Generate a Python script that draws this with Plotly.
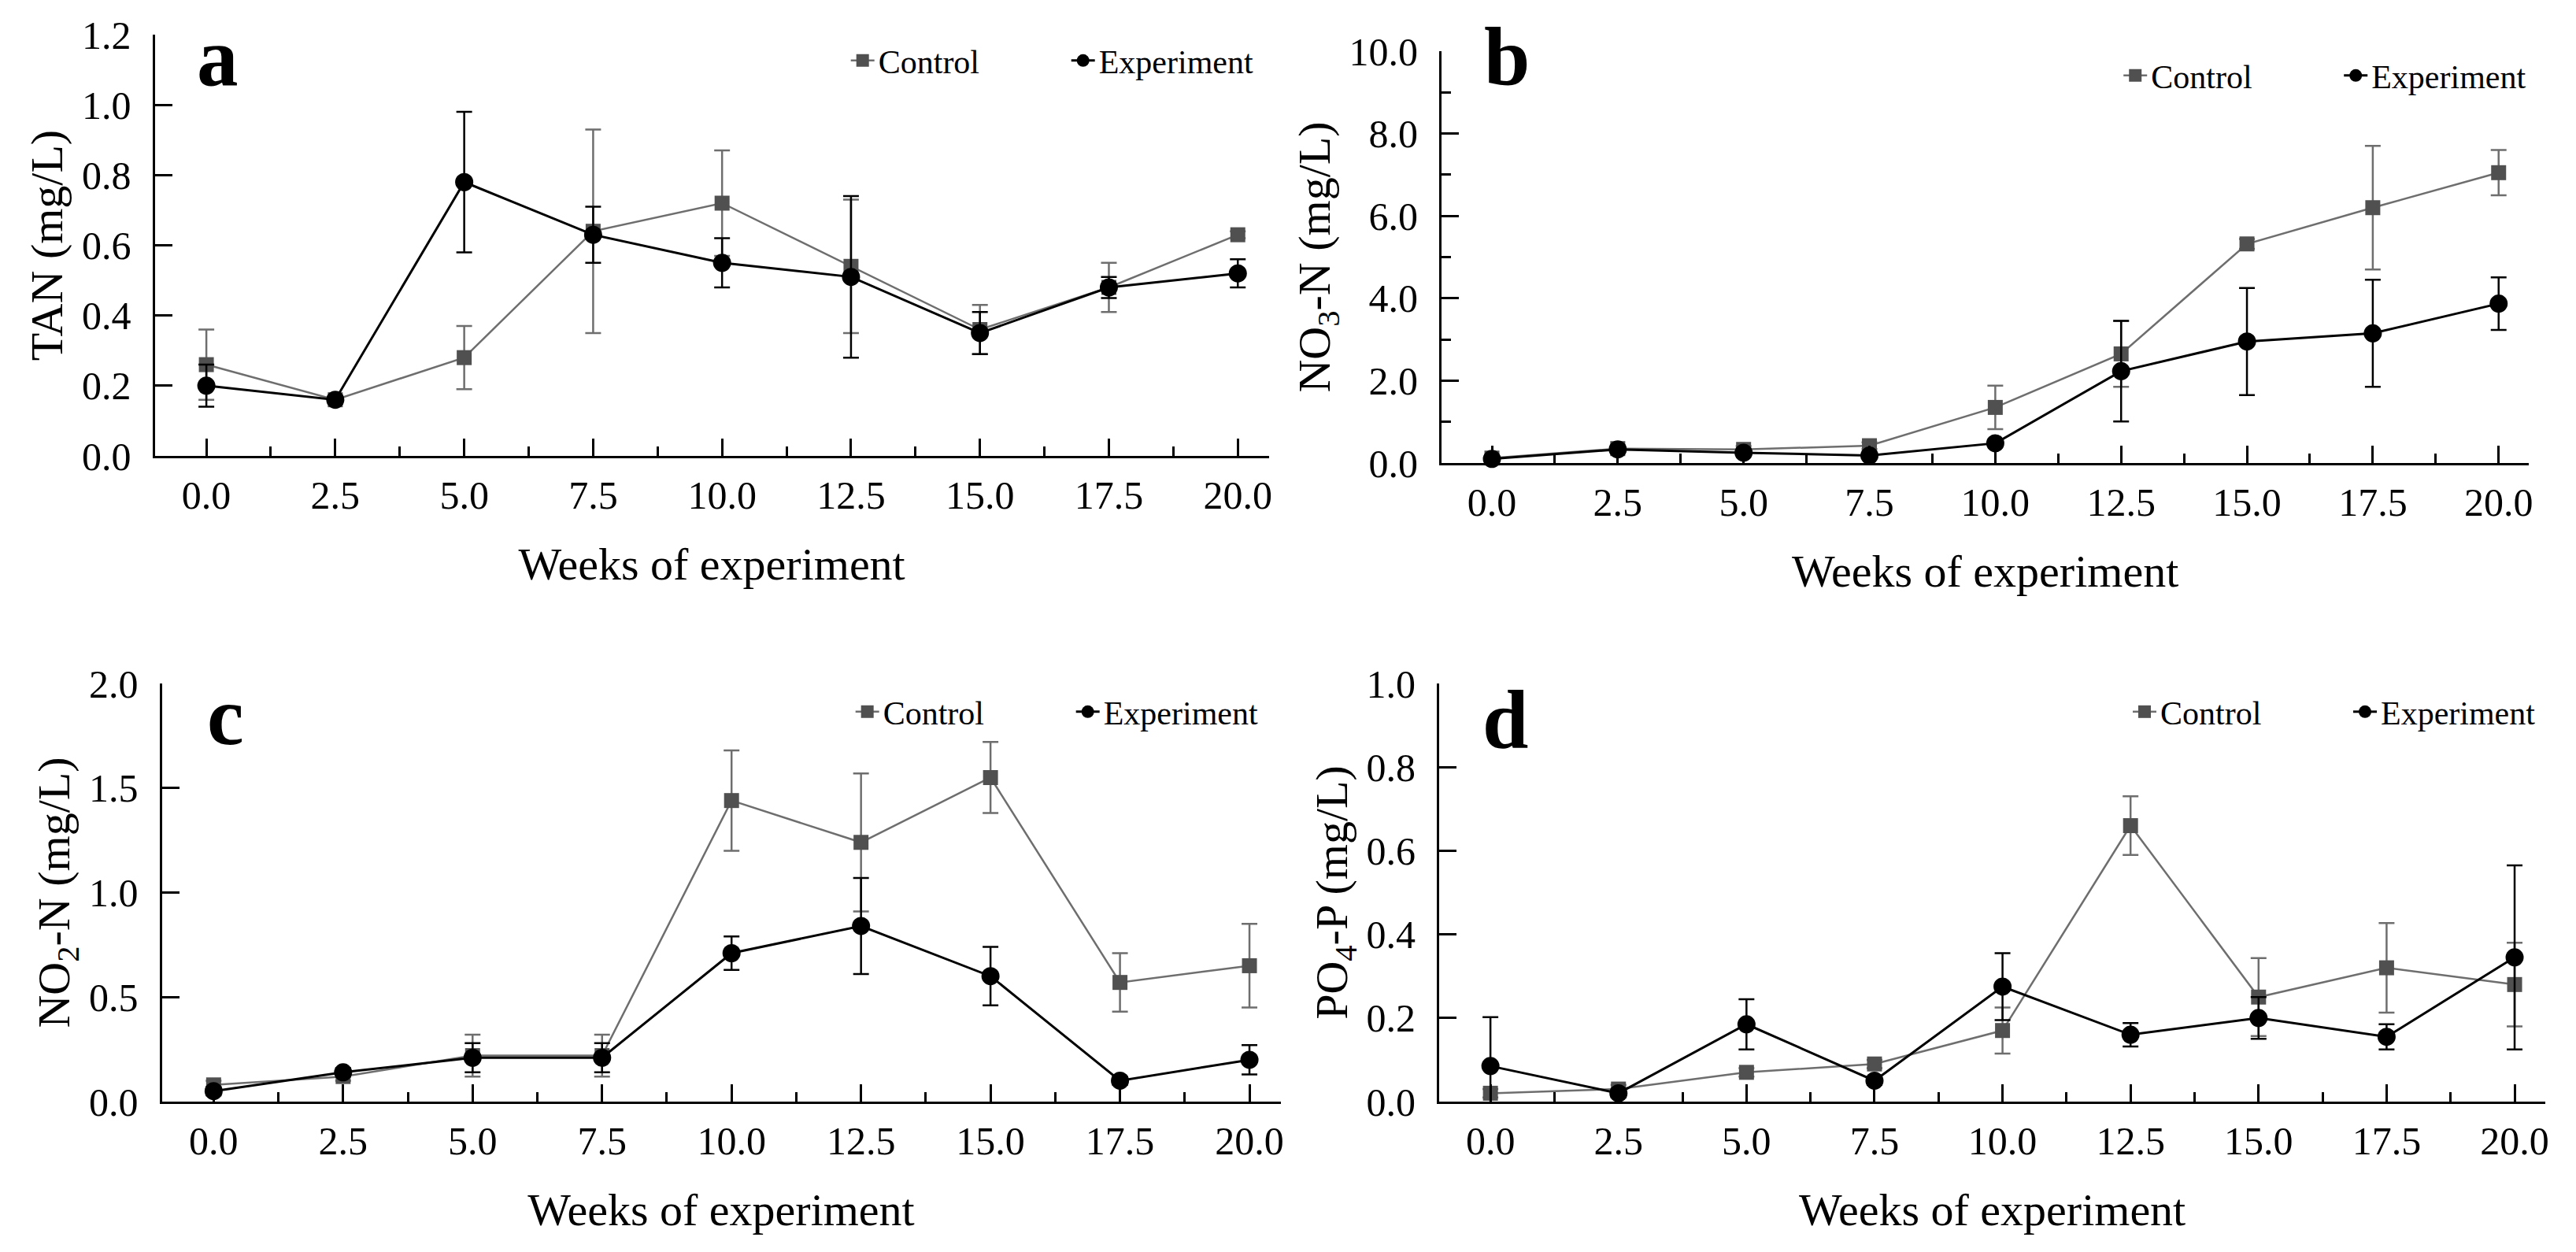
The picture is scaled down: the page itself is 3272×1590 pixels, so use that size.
import plotly.graph_objects as go

# weeks of sampling (shared by all four panels)
weeks = [0.0, 2.5, 5.0, 7.5, 10.0, 12.5, 15.0, 17.5, 20.0]

# a: TAN (mg/L)
tan_ctl = [0.26, 0.16, 0.28, 0.64, 0.72, 0.54, 0.36, 0.48, 0.63]
tan_ctl_err = [0.10, 0.01, 0.09, 0.29, 0.15, 0.19, 0.07, 0.07, 0.01]
tan_exp = [0.20, 0.16, 0.78, 0.63, 0.55, 0.51, 0.35, 0.48, 0.52]
tan_exp_err = [0.06, 0.01, 0.20, 0.08, 0.07, 0.23, 0.06, 0.03, 0.04]

# b: NO3-N (mg/L)
no3_ctl = [0.12, 0.35, 0.33, 0.42, 1.35, 2.65, 5.32, 6.20, 7.05]
no3_ctl_err = [0.05, 0.05, 0.08, 0.08, 0.53, 0.80, 0.12, 1.50, 0.55]
no3_exp = [0.10, 0.33, 0.25, 0.18, 0.48, 2.23, 2.95, 3.15, 3.87]
no3_exp_err = [0.05, 0.05, 0.05, 0.05, 0.08, 1.22, 1.30, 1.30, 0.64]

# c: NO2-N (mg/L)
no2_ctl = [0.08, 0.12, 0.22, 0.22, 1.44, 1.24, 1.55, 0.57, 0.65]
no2_ctl_err = [0.02, 0.02, 0.10, 0.10, 0.24, 0.33, 0.17, 0.14, 0.20]
no2_exp = [0.05, 0.14, 0.21, 0.21, 0.71, 0.84, 0.60, 0.10, 0.20]
no2_exp_err = [0.02, 0.02, 0.07, 0.07, 0.08, 0.23, 0.14, 0.02, 0.07]

# d: PO4-P (mg/L)
po4_ctl = [0.02, 0.03, 0.07, 0.09, 0.17, 0.66, 0.25, 0.32, 0.28]
po4_ctl_err = [0.01, 0.01, 0.01, 0.01, 0.055, 0.07, 0.093, 0.107, 0.10]
po4_exp = [0.085, 0.02, 0.185, 0.05, 0.275, 0.16, 0.20, 0.155, 0.345]
po4_exp_err = [0.117, 0.01, 0.06, 0.01, 0.08, 0.028, 0.05, 0.03, 0.22]

panels = [
    ("a", tan_ctl, tan_ctl_err, tan_exp, tan_exp_err, "TAN (mg/L)", 1.2, 0.2, None),
    ("b", no3_ctl, no3_ctl_err, no3_exp, no3_exp_err, "NO<sub>3</sub>-N (mg/L)", 10.0, 2.0, 1.0),
    ("c", no2_ctl, no2_ctl_err, no2_exp, no2_exp_err, "NO<sub>2</sub>-N (mg/L)", 2.0, 0.5, None),
    ("d", po4_ctl, po4_ctl_err, po4_exp, po4_exp_err, "PO<sub>4</sub>-P (mg/L)", 1.0, 0.2, None),
]

# the page body has an 8px margin, so the figure is a bit smaller and shifted
OFF = 8
W, H = 3272 - 2 * OFF, 1590 - 2 * OFF
# plot boxes in screen pixels: left, right, top, bottom
boxes = [(197, 1615, 44, 579), (1835, 3219, 65, 588),
         (206, 1630, 868, 1399), (1832, 3240, 868, 1399)]
legend_pos = [(1078, 77), (2698, 96), (1084, 904), (2710, 904)]
letter_pos = [(277, 133), (1918, 133), (287, 970), (1916, 975)]


def px(x):
    return (x - OFF) / W


def py(y):
    return 1 - (y - OFF) / H


FONT = "Liberation Serif"
CTL_LINE = "#6e6e6e"
CTL_MARK = "#505050"

fig = go.Figure()
layout = dict(template="none", width=W, height=H, margin=dict(l=0, r=0, t=0, b=0),
              paper_bgcolor="white", plot_bgcolor="white",
              font=dict(family=FONT, size=50, color="black"),
              annotations=[])

for i, (tag, ctl, ctl_err, exp, exp_err, ytitle, ymax, ydt, yminor) in enumerate(panels):
    n = "" if i == 0 else str(i + 1)
    leg = "legend" + n
    l, r, t, b = boxes[i]

    fig.add_trace(go.Scatter(
        x=weeks, y=ctl, name="Control", mode="lines+markers",
        line=dict(color=CTL_LINE, width=2.5),
        marker=dict(symbol="square", size=19, color=CTL_MARK),
        error_y=dict(type="data", array=ctl_err, color=CTL_LINE, thickness=2.5, width=10),
        xaxis="x" + n, yaxis="y" + n, legend=leg, cliponaxis=False))
    fig.add_trace(go.Scatter(
        x=weeks, y=exp, name="Experiment", mode="lines+markers",
        line=dict(color="black", width=3),
        marker=dict(symbol="circle", size=23, color="black"),
        error_y=dict(type="data", array=exp_err, color="black", thickness=2.5, width=10),
        xaxis="x" + n, yaxis="y" + n, legend=leg, cliponaxis=False))

    layout["xaxis" + n] = dict(
        domain=[px(l), px(r)], anchor="y" + n, range=[-1, 20.6], automargin=False,
        tick0=0, dtick=2.5, tickformat=".1f",
        showline=True, linewidth=3, linecolor="black",
        ticks="inside", ticklen=22, tickwidth=3, tickcolor="black",
        minor=dict(ticks="inside", dtick=1.25, ticklen=12, tickwidth=3, tickcolor="black"),
        showgrid=False, zeroline=False, ticklabelstandoff=4,
        title=dict(text="Weeks of experiment", font=dict(size=58), standoff=40))
    yax = dict(
        domain=[py(b), py(t)], anchor="x" + n, range=[0, ymax], automargin=False,
        tick0=0, dtick=ydt, tickformat=".1f",
        showline=True, linewidth=3, linecolor="black",
        ticks="inside", ticklen=22, tickwidth=3, tickcolor="black",
        showgrid=False, zeroline=False, ticklabelstandoff=17,
        title=dict(text=ytitle, font=dict(size=58), standoff=6))
    if yminor:
        yax["minor"] = dict(ticks="inside", dtick=yminor, ticklen=12, tickwidth=3, tickcolor="black")
    layout["yaxis" + n] = yax

    lx, ly = legend_pos[i]
    layout[leg] = dict(orientation="h", x=px(lx), y=py(ly), xanchor="left", yanchor="middle",
                       font=dict(size=42), bgcolor="rgba(0,0,0,0)", borderwidth=0,
                       entrywidth=235, entrywidthmode="pixels")

    ax, ay = letter_pos[i]
    layout["annotations"].append(dict(
        text="<b>" + tag + "</b>", x=px(ax), y=py(ay), xref="paper", yref="paper",
        xanchor="center", yanchor="bottom", showarrow=False, font=dict(size=105)))

fig.update_layout(**layout)
fig.write_html("out.html")
